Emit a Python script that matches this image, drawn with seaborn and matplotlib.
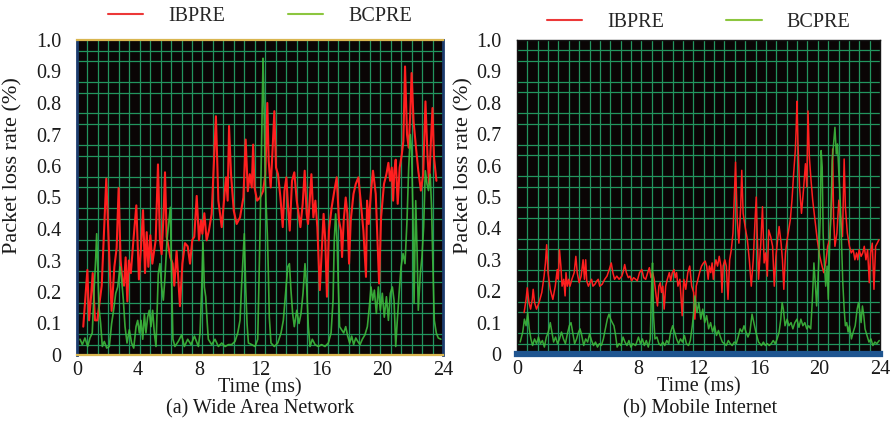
import numpy as np
import pandas as pd
import matplotlib
matplotlib.use("Agg")
import matplotlib.pyplot as plt
import seaborn as sns
from matplotlib.ticker import MultipleLocator, FixedLocator
from matplotlib.lines import Line2D

# ---------------- data ----------------
wan_ib_t = [0.41,0.68,0.79,0.92,1.03,1.18,1.33,1.62,1.92,2.10,2.27,2.45,2.60,2.73,2.86,2.97,3.08,3.19,3.30,3.40,
            3.53,3.70,3.89,4.06,4.20,4.33,4.46,4.57,4.68,4.81,4.94,5.16,5.31,5.44,5.55,5.68,5.77,5.88,6.12,6.27,
            6.38,6.53,6.75,6.91,7.08,7.26,7.41,7.56,7.69,7.85,8.00,8.13,8.22,8.35,8.50,8.65,8.83,9.11,9.27,9.49,
            9.62,9.77,9.88,9.97,10.10,10.28,10.47,10.69,10.91,11.06,11.20,11.33,11.46,11.55,11.64,11.81,12.00,12.20,12.35,12.48,
            12.57,12.70,12.83,12.94,13.05,13.18,13.34,13.49,13.60,13.73,13.84,13.95,14.10,14.25,14.41,14.65,14.80,14.93,15.06,15.15,
            15.26,15.37,15.50,15.63,15.76,15.92,16.04,16.17,16.28,16.39,16.52,16.70,16.87,17.03,17.18,17.31,17.38,17.49,17.62,17.73,
            17.84,17.95,18.13,18.28,18.45,18.60,18.78,18.95,19.02,19.13,19.28,19.41,19.59,19.81,19.94,20.13,20.29,20.42,20.53,20.64,
            20.73,20.81,20.90,21.03,21.16,21.30,21.40,21.51,21.64,21.75,21.86,21.94,22.07,22.23,22.38,22.55,22.70,22.85,22.98,23.09,
            23.20,23.31,23.41,23.57]
wan_ib_v = [0.09,0.27,0.11,0.185,0.26,0.11,0.11,0.22,0.56,0.33,0.14,0.28,0.34,0.53,0.30,0.24,0.22,0.31,0.17,0.30,
            0.26,0.365,0.475,0.24,0.345,0.46,0.26,0.39,0.28,0.38,0.29,0.365,0.605,0.365,0.32,0.45,0.58,0.375,0.31,0.29,
            0.22,0.33,0.155,0.29,0.355,0.345,0.29,0.365,0.375,0.505,0.364,0.427,0.385,0.45,0.364,0.395,0.448,0.758,0.49,0.406,
            0.48,0.564,0.49,0.727,0.574,0.458,0.416,0.437,0.50,0.684,0.52,0.574,0.532,0.668,0.532,0.49,0.50,0.52,0.574,0.80,
            0.616,0.532,0.658,0.774,0.595,0.574,0.50,0.406,0.52,0.564,0.469,0.395,0.553,0.58,0.49,0.406,0.48,0.585,0.448,0.416,
            0.49,0.574,0.437,0.49,0.406,0.206,0.322,0.448,0.364,0.185,0.395,0.469,0.52,0.564,0.427,0.395,0.311,0.427,0.50,0.448,
            0.29,0.427,0.511,0.543,0.564,0.49,0.395,0.248,0.49,0.416,0.52,0.585,0.511,0.227,0.437,0.543,0.574,0.61,0.553,0.595,
            0.49,0.585,0.62,0.48,0.595,0.637,0.679,0.916,0.70,0.658,0.774,0.895,0.742,0.658,0.585,0.522,0.574,0.805,0.637,0.543,
            0.669,0.784,0.627,0.553]

wan_bc_t = [0.20,0.35,0.52,0.70,0.85,1.00,1.11,1.22,1.29,1.36,1.44,1.55,1.66,1.79,1.95,2.12,2.27,2.40,2.54,2.67,
            2.82,2.93,3.04,3.15,3.28,3.43,3.58,3.72,3.87,3.98,4.09,4.20,4.31,4.42,4.52,4.63,4.74,4.85,4.96,5.07,
            5.18,5.33,5.44,5.55,5.66,5.77,5.90,6.03,6.12,6.20,6.29,6.42,6.64,6.86,7.04,7.26,7.48,7.70,7.96,8.07,
            8.18,8.26,8.35,8.44,8.53,8.61,8.83,9.05,9.27,9.49,9.71,9.93,10.14,10.36,10.54,10.69,10.80,10.91,10.97,11.06,
            11.15,11.24,11.46,11.68,11.85,12.00,12.11,12.20,12.26,12.33,12.39,12.48,12.55,12.61,12.72,12.94,13.16,13.38,13.53,13.68,
            13.82,13.93,14.03,14.14,14.25,14.41,14.56,14.69,14.82,14.95,15.06,15.17,15.28,15.43,15.61,15.82,16.04,16.26,16.48,16.66,
            16.79,16.87,16.96,17.05,17.14,17.22,17.35,17.49,17.62,17.75,17.88,18.01,18.14,18.28,18.41,18.56,18.71,18.88,19.04,19.17,
            19.28,19.39,19.50,19.63,19.76,19.89,20.02,20.15,20.29,20.42,20.55,20.68,20.79,20.90,20.99,21.12,21.25,21.38,21.51,21.64,
            21.75,21.86,21.94,22.03,22.10,22.21,22.30,22.38,22.51,22.62,22.73,22.84,22.95,23.05,23.16,23.25,23.34,23.43,23.56,23.69,
            23.86]
wan_bc_v = [0.05,0.033,0.054,0.027,0.054,0.07,0.196,0.30,0.385,0.28,0.153,0.10,0.027,0.043,0.022,0.027,0.10,0.142,0.196,0.216,
            0.28,0.238,0.174,0.09,0.038,0.08,0.038,0.022,0.09,0.11,0.07,0.11,0.05,0.13,0.07,0.12,0.142,0.09,0.142,0.07,
            0.027,0.258,0.29,0.216,0.174,0.248,0.364,0.427,0.469,0.258,0.05,0.027,0.043,0.064,0.027,0.05,0.033,0.06,0.027,0.07,
            0.216,0.358,0.216,0.185,0.11,0.05,0.033,0.05,0.027,0.038,0.027,0.033,0.033,0.043,0.07,0.11,0.227,0.332,0.385,0.216,
            0.10,0.038,0.033,0.027,0.05,0.385,0.70,0.942,0.805,0.595,0.49,0.385,0.258,0.12,0.038,0.027,0.038,0.07,0.11,0.196,
            0.28,0.29,0.206,0.132,0.09,0.142,0.10,0.132,0.196,0.29,0.216,0.09,0.027,0.05,0.033,0.027,0.033,0.027,0.038,0.07,
            0.174,0.364,0.448,0.364,0.216,0.09,0.08,0.07,0.09,0.06,0.038,0.06,0.033,0.054,0.043,0.033,0.05,0.064,0.09,0.153,
            0.216,0.174,0.206,0.132,0.216,0.142,0.196,0.12,0.185,0.11,0.196,0.216,0.174,0.027,0.10,0.196,0.28,0.322,0.29,0.427,
            0.595,0.70,0.648,0.448,0.164,0.49,0.332,0.142,0.258,0.311,0.406,0.585,0.543,0.522,0.574,0.469,0.28,0.11,0.07,0.054,
            0.05]

mob_ib_t = [0.47,0.60,0.68,0.79,0.90,1.01,1.07,1.16,1.29,1.46,1.64,1.79,1.88,1.96,2.05,2.20,2.37,2.53,2.66,2.73,
            2.81,2.90,2.98,3.09,3.18,3.24,3.33,3.42,3.50,3.63,3.78,3.89,3.98,4.11,4.24,4.37,4.46,4.54,4.61,4.72,
            4.82,4.93,5.02,5.15,5.28,5.37,5.47,5.63,5.80,5.95,6.10,6.23,6.34,6.45,6.60,6.75,6.93,7.03,7.12,7.23,
            7.36,7.47,7.58,7.71,7.84,7.95,8.10,8.25,8.38,8.51,8.64,8.75,8.86,8.97,9.07,9.20,9.29,9.38,9.47,9.55,
            9.64,9.73,9.83,9.94,10.07,10.16,10.27,10.38,10.46,10.55,10.64,10.77,10.92,11.03,11.16,11.29,11.42,11.55,11.68,11.76,
            11.85,11.96,12.07,12.20,12.33,12.44,12.54,12.64,12.72,12.81,12.90,12.98,13.07,13.15,13.26,13.37,13.48,13.55,13.63,13.74,
            13.84,13.95,14.06,14.17,14.28,14.38,14.45,14.56,14.67,14.79,14.86,14.95,15.08,15.23,15.36,15.49,15.62,15.75,15.82,15.88,
            15.97,16.12,16.23,16.34,16.44,16.55,16.64,16.77,16.90,17.01,17.12,17.23,17.33,17.46,17.55,17.64,17.75,17.86,17.96,18.07,
            18.18,18.29,18.40,18.46,18.51,18.57,18.68,18.81,18.94,19.07,19.16,19.24,19.33,19.44,19.55,19.70,19.85,20.02,20.17,20.28,
            20.41,20.54,20.67,20.80,20.87,20.93,21.02,21.15,21.28,21.41,21.52,21.63,21.71,21.84,21.98,22.10,22.23,22.34,22.45,22.53,
            22.62,22.75,22.86,22.96,23.07,23.18,23.29,23.38,23.49,23.60,23.71,23.82,23.93]
mob_ib_v = [0.132,0.174,0.211,0.164,0.143,0.174,0.206,0.164,0.143,0.164,0.196,0.248,0.29,0.348,0.259,0.206,0.174,0.216,0.269,0.238,
            0.332,0.28,0.216,0.238,0.185,0.259,0.216,0.238,0.216,0.238,0.259,0.311,0.259,0.227,0.248,0.30,0.238,0.30,0.233,0.216,
            0.227,0.238,0.216,0.222,0.233,0.238,0.216,0.222,0.238,0.248,0.269,0.29,0.259,0.238,0.248,0.238,0.248,0.264,0.285,0.259,
            0.243,0.248,0.233,0.243,0.238,0.233,0.259,0.269,0.243,0.238,0.259,0.275,0.243,0.259,0.238,0.185,0.153,0.216,0.227,0.196,
            0.216,0.143,0.216,0.238,0.259,0.233,0.259,0.269,0.243,0.259,0.216,0.238,0.122,0.238,0.206,0.259,0.28,0.216,0.196,0.111,
            0.216,0.238,0.259,0.28,0.29,0.296,0.28,0.238,0.28,0.259,0.29,0.238,0.28,0.30,0.28,0.311,0.28,0.196,0.28,0.30,
            0.28,0.174,0.30,0.332,0.385,0.522,0.611,0.427,0.353,0.469,0.585,0.448,0.406,0.364,0.30,0.216,0.30,0.437,0.50,0.385,
            0.238,0.353,0.469,0.29,0.322,0.248,0.395,0.374,0.343,0.216,0.311,0.364,0.406,0.353,0.30,0.206,0.322,0.364,0.395,0.427,
            0.49,0.574,0.648,0.722,0.805,0.679,0.532,0.448,0.522,0.606,0.532,0.774,0.627,0.553,0.49,0.427,0.364,0.311,0.28,0.259,
            0.29,0.343,0.364,0.49,0.653,0.437,0.343,0.385,0.49,0.427,0.374,0.621,0.469,0.385,0.343,0.322,0.332,0.30,0.322,0.30,
            0.332,0.311,0.322,0.343,0.30,0.332,0.227,0.322,0.353,0.206,0.343,0.353,0.364]

mob_bc_t = [0.21,0.38,0.49,0.60,0.71,0.81,0.92,1.03,1.16,1.29,1.42,1.55,1.68,1.81,1.94,2.07,2.20,2.31,2.42,2.55,
            2.68,2.81,2.94,3.07,3.20,3.33,3.46,3.57,3.68,3.81,3.94,4.07,4.17,4.28,4.41,4.54,4.67,4.80,4.93,5.06,
            5.19,5.32,5.45,5.58,5.71,5.84,5.97,6.08,6.19,6.30,6.41,6.52,6.62,6.75,6.88,7.01,7.14,7.27,7.40,7.53,
            7.66,7.84,8.03,8.16,8.29,8.42,8.55,8.68,8.81,8.90,8.96,9.03,9.12,9.25,9.38,9.51,9.64,9.77,9.90,10.03,
            10.16,10.29,10.42,10.55,10.68,10.81,10.94,11.07,11.20,11.34,11.46,11.59,11.68,11.76,11.90,12.02,12.15,12.28,12.41,12.54,
            12.67,12.80,12.93,13.06,13.19,13.32,13.45,13.58,13.71,13.84,13.97,14.10,14.23,14.36,14.50,14.62,14.75,14.88,15.01,15.14,
            15.27,15.40,15.54,15.66,15.79,15.97,16.16,16.29,16.42,16.55,16.68,16.81,16.94,17.07,17.20,17.33,17.44,17.53,17.61,17.72,
            17.86,17.98,18.12,18.24,18.37,18.51,18.64,18.77,18.90,19.03,19.16,19.29,19.42,19.53,19.63,19.72,19.81,19.94,20.05,20.11,
            20.18,20.24,20.33,20.41,20.50,20.58,20.67,20.75,20.84,20.93,21.02,21.11,21.19,21.28,21.37,21.45,21.54,21.63,21.71,21.80,
            21.89,21.98,22.11,22.23,22.36,22.49,22.58,22.67,22.75,22.84,22.93,23.01,23.14,23.27,23.40,23.53,23.66,23.79,23.95]
mob_bc_v = [0.038,0.07,0.111,0.09,0.132,0.08,0.048,0.027,0.048,0.033,0.054,0.033,0.043,0.022,0.054,0.07,0.10,0.07,0.038,0.054,
            0.033,0.048,0.07,0.048,0.033,0.064,0.09,0.10,0.07,0.033,0.048,0.07,0.08,0.059,0.027,0.048,0.038,0.064,0.043,0.027,
            0.038,0.022,0.033,0.027,0.048,0.08,0.111,0.127,0.111,0.10,0.09,0.059,0.022,0.033,0.027,0.054,0.038,0.027,0.043,0.022,
            0.033,0.027,0.054,0.033,0.048,0.027,0.043,0.022,0.048,0.216,0.29,0.122,0.048,0.054,0.033,0.027,0.038,0.027,0.043,0.033,
            0.07,0.09,0.07,0.048,0.033,0.048,0.038,0.059,0.033,0.027,0.043,0.09,0.132,0.185,0.132,0.164,0.111,0.143,0.10,0.122,
            0.08,0.10,0.07,0.09,0.059,0.075,0.054,0.038,0.033,0.027,0.043,0.033,0.027,0.038,0.033,0.054,0.08,0.07,0.09,0.07,
            0.054,0.07,0.127,0.10,0.07,0.038,0.027,0.038,0.027,0.033,0.027,0.033,0.043,0.033,0.048,0.07,0.111,0.164,0.143,0.09,
            0.111,0.09,0.10,0.08,0.10,0.111,0.085,0.111,0.09,0.10,0.08,0.09,0.08,0.174,0.29,0.227,0.153,0.28,0.437,0.648,
            0.595,0.385,0.28,0.216,0.28,0.174,0.343,0.437,0.616,0.669,0.722,0.637,0.669,0.574,0.49,0.364,0.227,0.143,0.09,0.10,
            0.07,0.09,0.048,0.07,0.09,0.143,0.164,0.132,0.10,0.153,0.122,0.08,0.059,0.038,0.048,0.027,0.038,0.033,0.043]

x_ticks = [0, 4, 8, 12, 16, 20, 24]
y_ticks = [0, 0.1, 0.2, 0.3, 0.4, 0.5, 0.6, 0.7, 0.8, 0.9, 1.0]
y_tick_labels = ["0", "0.1", "0.2", "0.3", "0.4", "0.5", "0.6", "0.7", "0.8", "0.9", "1.0"]
series_names = ["IBPRE", "BCPRE"]
subtitles = ["(a) Wide Area Network", "(b) Mobile Internet"]

# ---------------- style ----------------
sns.set_theme(style="dark")
plt.rcParams['font.family'] = ['Liberation Serif', 'DejaVu Serif']

RED = '#ff1f1f'
GREEN = '#3dba3d'
LEG_RED = '#ec3838'
LEG_GREEN = '#8cc63f'
GRID = '#22955e'
BG = '#0a0505'
TXT = '#1a1a1a'
FS = 14.5

fig = plt.figure(figsize=(8.93, 4.29), dpi=100)
fig.patch.set_facecolor('white')

axL = fig.add_axes([77/893, (429-355)/429, 366/893, 315/429])
axR = fig.add_axes([517/893, (429-354)/429, 363/893, 314/429])

panels = [
    (axL, wan_ib_t, wan_ib_v, wan_bc_t, wan_bc_v, 1.5, 1.2, -0.15),
    (axR, mob_ib_t, mob_ib_v, mob_bc_t, mob_bc_v, 1.1, 1.1, -0.12),
]

for i, (ax, it, iv, bt, bv, lw_r, lw_g, ylab_x) in enumerate(panels):
    ax.set_facecolor(BG)
    df_ib = pd.DataFrame({"t": it, "v": iv})
    df_bc = pd.DataFrame({"t": bt, "v": bv})
    sns.lineplot(data=df_ib, x="t", y="v", ax=ax, color=RED, linewidth=lw_r, zorder=3)
    sns.lineplot(data=df_bc, x="t", y="v", ax=ax, color=GREEN, linewidth=lw_g, alpha=0.9, zorder=4)
    ax.set_xlim(0, 24)
    ax.set_ylim(0, 1)
    ax.xaxis.set_major_locator(FixedLocator(x_ticks))
    ax.yaxis.set_major_locator(FixedLocator(y_ticks))
    ax.set_yticklabels(y_tick_labels)
    ax.xaxis.set_minor_locator(MultipleLocator(24/35))
    ax.yaxis.set_minor_locator(MultipleLocator(1/30))
    ax.grid(False, which='major')
    ax.grid(True, which='minor', color=GRID, linewidth=0.9)
    ax.set_axisbelow(True)
    ax.tick_params(which='both', length=0, labelsize=FS, colors=TXT)
    ax.tick_params(axis='y', pad=11)
    ax.tick_params(axis='x', pad=4)
    ax.set_xlabel("Time (ms)", fontsize=FS, color=TXT, labelpad=-1)
    ax.set_ylabel("Packet loss rate (%)", fontsize=16, color=TXT)
    ax.yaxis.set_label_coords(ylab_x, 0.6)
    handles = [Line2D([0], [0], color=LEG_RED, lw=1.5), Line2D([0], [0], color=LEG_GREEN, lw=1.5)]
    leg_y = 1.02 if i == 0 else 1.0
    ax.legend(handles, series_names, loc='lower center', bbox_to_anchor=(0.5, leg_y), ncol=2,
              frameon=False, fontsize=FS, handlelength=1.75, handletextpad=1.25, columnspacing=3.1,
              borderaxespad=0.0)

# spines
for s in ['top', 'bottom']:
    axL.spines[s].set_color('#d9b650')
    axL.spines[s].set_linewidth(1.6)
for s in ['left', 'right']:
    axL.spines[s].set_color('#1c3c6e')
    axL.spines[s].set_linewidth(2.0)
for s in ['top', 'left', 'right']:
    axR.spines[s].set_color('#151515')
    axR.spines[s].set_linewidth(1.0)
axR.spines['bottom'].set_color('#1f5590')
axR.spines['bottom'].set_linewidth(4.5)

fig.text(260/893, 1 - 409/429, subtitles[0], ha='center', va='center', fontsize=FS, color=TXT)
fig.text(700/893, 1 - 409/429, subtitles[1], ha='center', va='center', fontsize=FS, color=TXT)

fig.savefig("out.png", dpi=100, facecolor='white')
